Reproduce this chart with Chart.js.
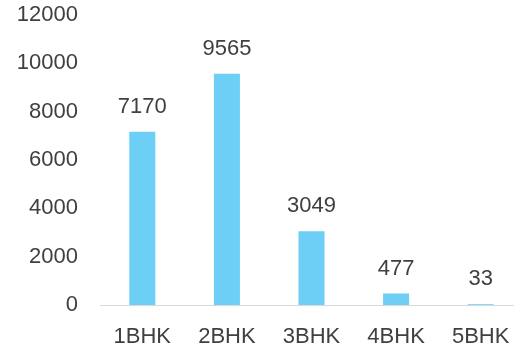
<!DOCTYPE html>
<html>
<head>
<meta charset="utf-8">
<script src="https://cdn.jsdelivr.net/npm/chart.js@4"></script>
<style>
  html, body { margin: 0; padding: 0; overflow: hidden; background: #fff; }
</style>
</head>
<body>
<canvas id="myChart" width="530" height="351"></canvas>
<script>
const categories = ['1BHK', '2BHK', '3BHK', '4BHK', '5BHK'];
const units = [7170, 9565, 3049, 477, 33];

const FONT = '"Liberation Sans", Arial, sans-serif';
const TEXT = '#404040';

// draw the value above each bar
const valueLabels = {
  id: 'valueLabels',
  afterDatasetsDraw(chart) {
    const c = chart.ctx;
    c.save();
    c.font = '22px ' + FONT;
    c.fillStyle = TEXT;
    c.textAlign = 'center';
    c.textBaseline = 'middle';
    chart.getDatasetMeta(0).data.forEach((bar, i) => {
      c.fillText(units[i], bar.x, bar.y - 25);
    });
    c.restore();
  }
};

const ctx = document.getElementById('myChart');

new Chart(ctx, {
  type: 'bar',
  data: {
    labels: categories,
    datasets: [{
      data: units,
      backgroundColor: '#6DCFF6',
      barPercentage: 0.616,
      categoryPercentage: 0.5
    }]
  },
  options: {
    responsive: false,
    animation: false,
    layout: { padding: { left: 0, top: 15, right: 7, bottom: 0 } },
    plugins: {
      legend: { display: false },
      tooltip: { enabled: false }
    },
    scales: {
      x: {
        grid: { display: false, drawTicks: false },
        border: { color: '#d9d9d9', width: 1 },
        ticks: { color: TEXT, font: { family: FONT, size: 22 }, padding: 19, maxRotation: 0 },
        afterFit(scale) { scale.height = 46; }
      },
      y: {
        min: 0,
        max: 12000,
        grid: { display: false, drawTicks: false },
        border: { display: false },
        ticks: {
          stepSize: 2000, color: TEXT, font: { family: FONT, size: 22 }, padding: 22,
          callback: v => String(v)
        },
        afterFit(scale) {
          scale.width = 100;
          scale.paddingTop = 0;
          scale.paddingBottom = 0;
        }
      }
    }
  },
  plugins: [valueLabels]
});
</script>
</body>
</html>
